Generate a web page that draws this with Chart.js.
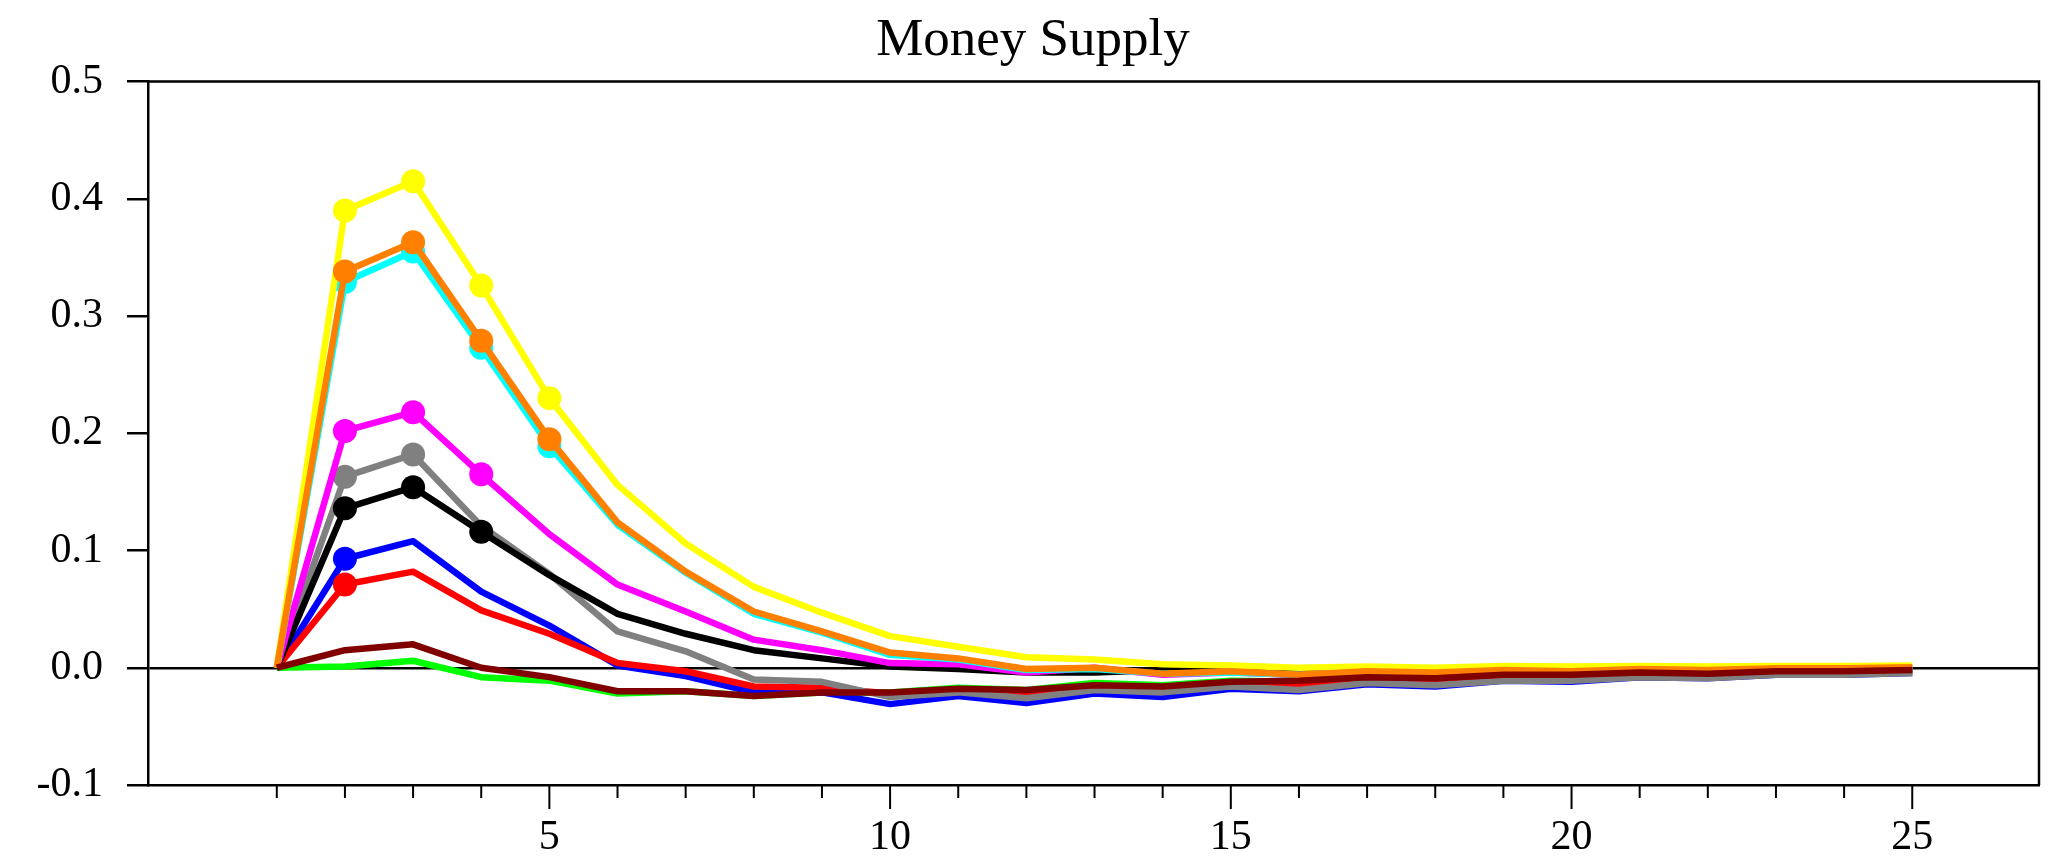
<!DOCTYPE html>
<html>
<head>
<meta charset="utf-8">
<title>Money Supply</title>
<script src="https://cdn.jsdelivr.net/npm/chart.js@4.4.1/dist/chart.umd.min.js"></script>
<style>
  html, body { margin: 0; padding: 0; background: #fff; }
  #chart { display: block; }
</style>
</head>
<body>
<canvas id="chart" width="2066" height="856"></canvas>
<script>
// Impulse responses - Money Supply
const PERIODS = [1,2,3,4,5,6,7,8,9,10,11,12,13,14,15,16,17,18,19,20,21,22,23,24,25];
const X_TICKS = [5, 10, 15, 20, 25];
const Y_TICKS = [-0.1, 0.0, 0.1, 0.2, 0.3, 0.4, 0.5];

const GREEN   = [0, 0.001, 0.006, -0.008, -0.011, -0.022, -0.020, -0.024, -0.021, -0.021, -0.017, -0.019, -0.013, -0.015, -0.011, -0.012, -0.008, -0.009, -0.006, -0.006, -0.004, -0.004, -0.003, -0.003, -0.002];
const BLUE    = [0, 0.093, 0.108, 0.065, 0.036, 0.002, -0.007, -0.021, -0.021, -0.031, -0.024, -0.030, -0.022, -0.025, -0.018, -0.020, -0.014, -0.016, -0.011, -0.012, -0.008, -0.009, -0.006, -0.006, -0.0045];
const RED     = [0, 0.071, 0.082, 0.049, 0.029, 0.004, -0.003, -0.016, -0.017, -0.022, -0.019, -0.022, -0.016, -0.017, -0.013, -0.014, -0.010, -0.011, -0.008, -0.008, -0.006, -0.006, -0.004, -0.004, -0.003];
const GRAY    = [0, 0.163, 0.182, 0.121, 0.080, 0.031, 0.014, -0.010, -0.012, -0.025, -0.021, -0.026, -0.019, -0.021, -0.016, -0.019, -0.013, -0.015, -0.011, -0.011, -0.008, -0.009, -0.006, -0.006, -0.0045];
const BLACK   = [0, 0.136, 0.154, 0.116, 0.079, 0.046, 0.029, 0.015, 0.008, 0.001, -0.001, -0.004, -0.004, -0.002, -0.003, -0.004, -0.003, -0.004, -0.003, -0.003, -0.002, -0.002, -0.001, -0.001, -0.001];
const MAGENTA = [0, 0.202, 0.218, 0.165, 0.114, 0.071, 0.048, 0.024, 0.015, 0.004, 0.003, -0.004, 0.000, -0.006, -0.004, -0.006, -0.004, -0.005, -0.003, -0.003, -0.002, -0.002, -0.001, -0.001, 0];
const CYAN    = [0, 0.329, 0.355, 0.273, 0.189, 0.122, 0.081, 0.046, 0.030, 0.011, 0.007, -0.002, -0.001, -0.005, -0.004, -0.006, -0.004, -0.004, -0.003, -0.003, -0.002, -0.002, -0.001, -0.001, 0];
const YELLOW  = [0, 0.390, 0.415, 0.326, 0.230, 0.156, 0.106, 0.069, 0.047, 0.027, 0.018, 0.009, 0.007, 0.003, 0.002, 0.000, 0.001, 0.000, 0.0015, 0.001, 0.0015, 0.001, 0.0015, 0.0015, 0.002];
const ORANGE  = [0, 0.338, 0.363, 0.279, 0.195, 0.124, 0.082, 0.048, 0.031, 0.013, 0.008, -0.001, 0.000, -0.005, -0.003, -0.006, -0.003, -0.004, -0.002, -0.003, -0.001, -0.002, -0.0005, -0.0005, 0.0005];
const MAROON  = [0, 0.015, 0.020, 0.000, -0.008, -0.020, -0.020, -0.024, -0.021, -0.021, -0.018, -0.019, -0.015, -0.016, -0.012, -0.011, -0.008, -0.009, -0.006, -0.006, -0.004, -0.005, -0.003, -0.003, -0.002];

// periods that carry a dot marker, per series
const MARKED = {
  green: [], blue: [2], red: [2], gray: [2, 3], black: [2, 3, 4],
  magenta: [2, 3, 4], cyan: [2, 3, 4, 5], yellow: [2, 3, 4, 5], orange: [2, 3, 4, 5], maroon: []
};

// bottom -> top drawing order
const SERIES = [
  {key: "green",   color: "#00ff00", values: GREEN},
  {key: "blue",    color: "#0000ff", values: BLUE},
  {key: "red",     color: "#ff0000", values: RED},
  {key: "gray",    color: "#808080", values: GRAY},
  {key: "black",   color: "#000000", values: BLACK},
  {key: "magenta", color: "#ff00ff", values: MAGENTA},
  {key: "cyan",    color: "#00ffff", values: CYAN},
  {key: "yellow",  color: "#ffff00", values: YELLOW},
  {key: "orange",  color: "#ff8000", values: ORANGE},
  {key: "maroon",  color: "#800000", values: MAROON}
];

const FONT = "'Liberation Serif', 'Times New Roman', serif";

// frame (top + right) and the x tick marks
const framePlugin = {
  id: "frame",
  afterDraw(chart) {
    const {ctx, chartArea: a, scales: {x}} = chart;
    ctx.save();
    ctx.strokeStyle = "#000";
    ctx.lineWidth = 2.5;
    ctx.beginPath();
    ctx.moveTo(a.left, a.top);
    ctx.lineTo(a.right, a.top);
    ctx.lineTo(a.right, a.bottom);
    ctx.stroke();
    ctx.lineWidth = 2;
    PERIODS.forEach(p => {
      const px = x.getPixelForValue(p);
      const len = X_TICKS.includes(p) ? 24 : 13;
      ctx.beginPath();
      ctx.moveTo(px, a.bottom);
      ctx.lineTo(px, a.bottom + len);
      ctx.stroke();
    });
    ctx.restore();
  }
};

const datasets = SERIES.map((s, i) => ({
  label: s.key,
  data: PERIODS.map((p, j) => ({x: p, y: s.values[j]})),
  borderColor: s.color,
  backgroundColor: s.color,
  borderWidth: 6.5,
  borderJoinStyle: "round",
  tension: 0,
  pointRadius: c => MARKED[s.key].includes(c.raw.x) ? 12 : 0,
  pointBorderWidth: 0,
  pointHoverRadius: 0,
  order: SERIES.length - i
}));

new Chart(document.getElementById("chart"), {
  type: "line",
  data: {datasets},
  plugins: [framePlugin],
  options: {
    responsive: false,
    animation: false,
    layout: {padding: 0},
    plugins: {
      legend: {display: false},
      tooltip: {enabled: false},
      title: {
        display: true,
        text: "Money Supply",
        color: "#000",
        font: {family: FONT, size: 53, weight: "normal"},
        padding: {top: 9, bottom: 9}
      }
    },
    scales: {
      x: {
        type: "linear",
        min: -0.89,
        max: 26.86,
        afterBuildTicks: scale => { scale.ticks = X_TICKS.map(v => ({value: v})); },
        afterFit: scale => { scale.height = 71; },
        grid: {display: false, drawTicks: false},
        border: {display: true, color: "#000", width: 2.5},
        ticks: {
          color: "#000",
          padding: 28,
          maxRotation: 0,
          font: {family: FONT, size: 42},
          callback: v => String(v)
        }
      },
      y: {
        min: -0.1,
        max: 0.5,
        afterBuildTicks: scale => { scale.ticks = Y_TICKS.map(v => ({value: v})); },
        afterFit: scale => { scale.width = 148; },
        grid: {
          drawOnChartArea: true,
          color: c => (c.tick && Math.abs(c.tick.value) < 1e-9) ? "#000" : "rgba(0,0,0,0)",
          lineWidth: 2.5,
          tickLength: 21,
          tickColor: "#000",
          tickWidth: 2.5
        },
        border: {display: true, color: "#000", width: 2.5},
        ticks: {
          color: "#000",
          padding: 24,
          font: {family: FONT, size: 42},
          callback: v => v.toFixed(1)
        }
      },
      // empty right-hand strip so the plot ends where the reference frame ends
      yRight: {
        position: "right",
        display: true,
        afterFit: scale => { scale.width = 27; },
        grid: {display: false, drawTicks: false},
        border: {display: false},
        ticks: {display: false}
      }
    }
  }
});
</script>
</body>
</html>
